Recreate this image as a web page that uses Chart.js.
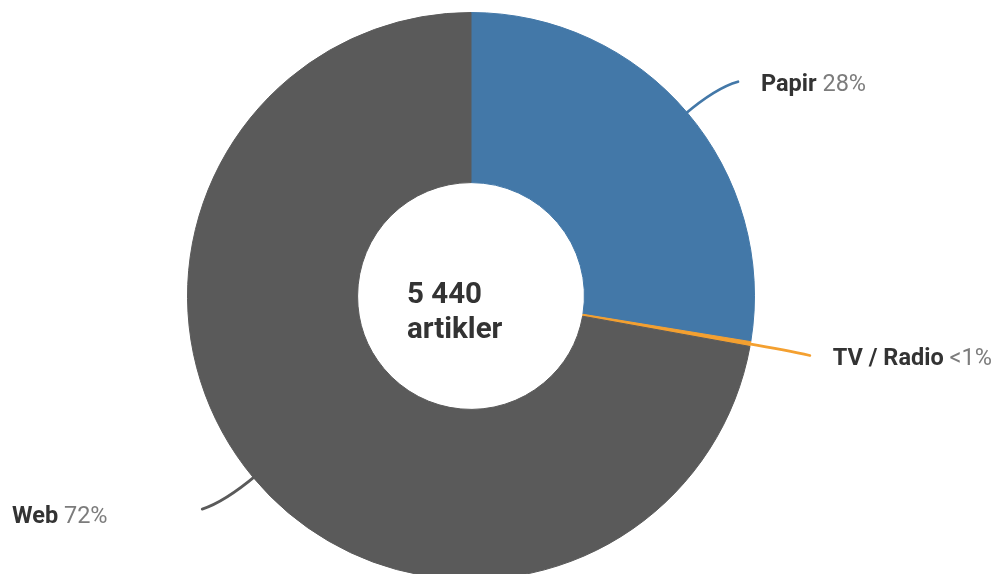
<!DOCTYPE html>
<html>
<head>
<meta charset="utf-8">
<script src="https://cdn.jsdelivr.net/npm/chart.js@4"></script>
<style>
  html, body { margin: 0; padding: 0; background: #fff; overflow: hidden; }
  #wrap { width: 999px; height: 600px; position: relative; }
</style>
</head>
<body>
<div id="wrap"><canvas id="myChart" width="999" height="600"></canvas></div>
<script>
const labels = ["Papir", "TV / Radio", "Web"];
const values = [1500, 15, 3925];
const colors = ["#4378a8", "#f4a030", "#5a5a5a"];
const centerLines = ["5 440", "artikler"];

const total = values.reduce((a, b) => a + b, 0);

function pctText(v) {
  const p = v / total * 100;
  return p < 1 ? "<1%" : Math.round(p) + "%";
}

const leaderPlugin = {
  id: "leaders",
  afterDatasetsDraw(chart) {
    const ctx = chart.ctx;
    const meta = chart.getDatasetMeta(0);
    meta.data.forEach((arc, i) => {
      const mid = (arc.startAngle + arc.endAngle) / 2;
      const cx = arc.x, cy = arc.y, r = arc.outerRadius;
      const dx = Math.cos(mid), dy = Math.sin(mid);
      const p0 = { x: cx + dx * (r - 4), y: cy + dy * (r - 4) };
      const c = { x: cx + dx * (r + 38), y: cy + dy * (r + 38) };
      const right = dx > 0;
      const end = { x: c.x + (right ? 22 : -22), y: c.y + (dy < 0 ? -6 : 7) };
      if (i == 1) { end.y = c.y + 5; }
      ctx.save();
      ctx.strokeStyle = colors[i];
      ctx.lineWidth = 2.8;
      ctx.lineCap = "round";
      ctx.beginPath();
      ctx.moveTo(p0.x, p0.y);
      ctx.quadraticCurveTo(c.x, c.y, end.x, end.y);
      ctx.stroke();

      ctx.textBaseline = "alphabetic";
      ctx.textAlign = "left";
      const name = labels[i];
      const pct = pctText(values[i]);
      ctx.font = "bold 23.5px Roboto";
      const nw = ctx.measureText(name + " ").width;
      let tx = right ? end.x + 23 : 12;
      const ty = end.y + (right ? 9 : 14);
      ctx.fillStyle = "#333";
      ctx.fillText(name, tx, ty);
      ctx.font = "23.5px Roboto";
      ctx.fillStyle = "#7c7c7c";
      ctx.fillText(pct, tx + nw, ty);
      ctx.restore();
    });

    // center text
    const a = meta.data[0];
    ctx.save();
    ctx.font = "bold 29.5px Roboto";
    ctx.fillStyle = "#333";
    ctx.textAlign = "left";
    ctx.textBaseline = "alphabetic";
    ctx.fillText(centerLines[0], a.x - 64, a.y + 7);
    ctx.fillText(centerLines[1], a.x - 64, a.y + 42);
    ctx.restore();
  }
};

const ctx = document.getElementById("myChart").getContext("2d");
const chart = new Chart(ctx, {
  type: "doughnut",
  data: {
    labels: labels,
    datasets: [{
      data: values,
      backgroundColor: colors,
      borderColor: colors,
      borderWidth: 1,
    }],
  },
  options: {
    responsive: false,
    animation: false,
    cutout: "40%",
    layout: { padding: { left: 187, right: 244, top: 12, bottom: 20 } },
    plugins: {
      legend: { display: false },
      tooltip: { enabled: false },
    },
  },
  plugins: [leaderPlugin],
});
</script>
</body>
</html>
